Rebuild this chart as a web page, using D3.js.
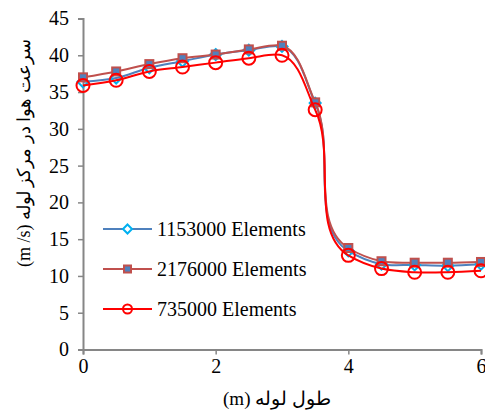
<!DOCTYPE html>
<html>
<head>
<meta charset="utf-8">
<script src="https://cdn.jsdelivr.net/npm/d3@7"></script>
<style>
  body { margin: 0; background: #fff; }
</style>
</head>
<body>
<svg id="chart" width="485" height="414"></svg>
<script>
// values
var xs = [0, 0.5, 1, 1.5, 2, 2.5, 3, 3.5, 4, 4.5, 5, 5.5, 6];
var el1153 = [36.4, 36.9, 38.3, 39.2, 40.1, 40.7, 41.2, 33.5, 13.4, 11.6, 11.5, 11.4, 11.6];
var el2176 = [37.0, 37.8, 38.8, 39.6, 40.1, 40.8, 41.3, 33.6, 13.8, 12.0, 11.8, 11.8, 11.9];
var el735 = [35.9, 36.6, 37.8, 38.4, 39.0, 39.6, 40.0, 32.6, 12.8, 11.0, 10.5, 10.5, 10.7];
var seriesNames = ['1153000 Elements', '2176000 Elements', '735000 Elements'];
var xTicks = [0, 2, 4, 6];
var yTicks = [0, 5, 10, 15, 20, 25, 30, 35, 40, 45];

var svg = d3.select('#chart');
var axisColor = '#868686';
var serif = 'Liberation Serif';

var x = d3.scaleLinear().domain([0, 6]).range([83, 481]);
var y = d3.scaleLinear().domain([0, 45]).range([349.5, 18.5]);

// axes
var xAxis = svg.append('g').attr('transform', 'translate(0,' + y(0) + ')')
    .call(d3.axisBottom(x).tickValues(xTicks).tickSize(5).tickPadding(4).tickFormat(d3.format('d')));
var yAxis = svg.append('g').attr('transform', 'translate(' + x(0) + ',0)')
    .call(d3.axisLeft(y).tickValues(yTicks).tickSize(5).tickPadding(9).tickFormat(d3.format('d')));

[xAxis, yAxis].forEach(function (g) {
  g.attr('font-family', serif).attr('font-size', 20);
  g.select('.domain').attr('stroke', axisColor).attr('stroke-width', 2);
  g.selectAll('.tick line').attr('stroke', axisColor).attr('stroke-width', 1.5);
  g.selectAll('.tick text').attr('fill', '#000');
});

// titles
svg.append('text')
    .attr('transform', 'translate(24,153) rotate(-90)')
    .attr('text-anchor', 'middle')
    .attr('dominant-baseline', 'central')
    .attr('font-family', serif)
    .attr('font-size', 18)
    .text('(m /s)  سرعت هوا  در مرکز لوله');

svg.append('text')
    .attr('x', 277).attr('y', 398)
    .attr('text-anchor', 'middle')
    .attr('dominant-baseline', 'central')
    .attr('font-family', serif)
    .attr('font-size', 19)
    .text('(m) طول لوله');

// chordal catmull-rom keeps the overshoot round the drop small
var line = d3.line()
    .x(function (d) { return x(d[0]); })
    .y(function (d) { return y(d[1]); })
    .curve(d3.curveCatmullRom.alpha(1));

var series = [
  { name: seriesNames[0], values: el1153, line: '#4F81BD', marker: 'diamond' },
  { name: seriesNames[1], values: el2176, line: '#C0504D', marker: 'square' },
  { name: seriesNames[2], values: el735, line: '#FF0000', marker: 'circle' }
];

function drawMarker(g, type, cx, cy, big) {
  if (type === 'diamond') {
    var s = big ? 5.5 : 4.5;
    g.append('path')
        .attr('d', 'M' + cx + ',' + (cy - s) + 'L' + (cx + s) + ',' + cy + 'L' + cx + ',' + (cy + s) + 'L' + (cx - s) + ',' + cy + 'Z')
        .attr('fill', big ? 'none' : '#fff').attr('stroke', '#00B0F0').attr('stroke-width', 2);
  } else if (type === 'square') {
    var h = big ? 4 : 3.5;
    g.append('rect')
        .attr('x', cx - h).attr('y', cy - h).attr('width', 2 * h).attr('height', 2 * h)
        .attr('fill', '#4F81BD').attr('stroke', '#C0504D').attr('stroke-width', 2);
  } else {
    g.append('circle')
        .attr('cx', cx).attr('cy', cy).attr('r', big ? 6.5 : 4.5)
        .attr('fill', 'none').attr('stroke', '#FF0000').attr('stroke-width', 2);
  }
}

series.forEach(function (s) {
  var pts = xs.map(function (xv, i) { return [xv, s.values[i]]; });
  var g = svg.append('g');
  g.append('path')
      .attr('d', line(pts))
      .attr('fill', 'none')
      .attr('stroke', s.line)
      .attr('stroke-width', 2);
  pts.forEach(function (p) {
    drawMarker(g, s.marker, x(p[0]), y(p[1]), true);
  });
});

// legend
var legend = svg.append('g');
series.forEach(function (s, i) {
  var ly = 229 + i * 40;
  legend.append('line')
      .attr('x1', 103).attr('x2', 152).attr('y1', ly).attr('y2', ly)
      .attr('stroke', s.line).attr('stroke-width', 2);
  drawMarker(legend, s.marker, 127.5, ly, false);
  legend.append('text')
      .attr('x', 157).attr('y', ly)
      .attr('dominant-baseline', 'central')
      .attr('font-family', serif)
      .attr('font-size', 20)
      .text(s.name);
});
</script>
</body>
</html>
